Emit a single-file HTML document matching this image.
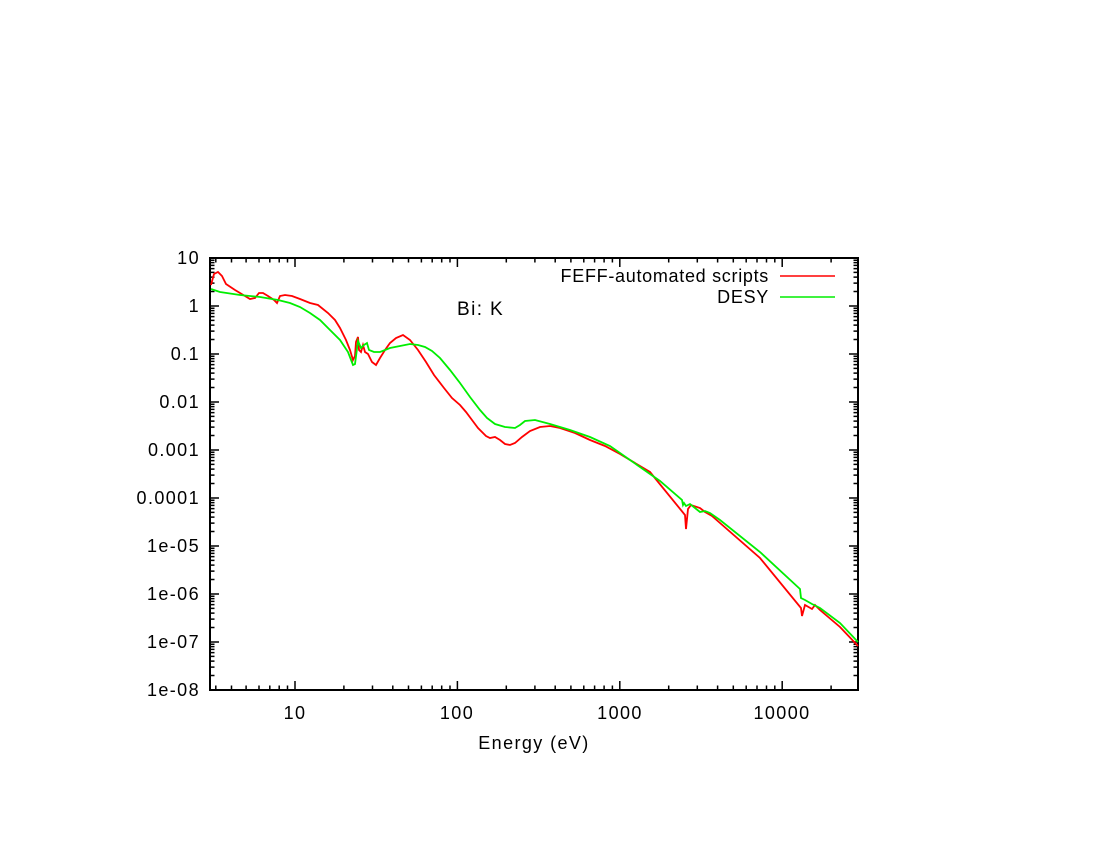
<!DOCTYPE html>
<html><head><meta charset="utf-8"><style>body{margin:0;background:#fff}svg{display:block}text{font-family:"Liberation Sans",sans-serif;font-size:18px;letter-spacing:1.4px}</style></head><body>
<svg width="1100" height="850" xmlns="http://www.w3.org/2000/svg">
<g stroke="#000" stroke-width="1.5" fill="none">
<path d="M210,690h9M858,690h-9M210,675.5h4.5M858,675.5h-4.5M210,667.1h4.5M858,667.1h-4.5M210,661.1h4.5M858,661.1h-4.5M210,656.4h4.5M858,656.4h-4.5M210,652.6h4.5M858,652.6h-4.5M210,649.4h4.5M858,649.4h-4.5M210,646.6h4.5M858,646.6h-4.5M210,644.2h4.5M858,644.2h-4.5"/>
<path id="yd" d="M210,642h9M858,642h-9M210,627.5h4.5M858,627.5h-4.5M210,619.1h4.5M858,619.1h-4.5M210,613.1h4.5M858,613.1h-4.5M210,608.4h4.5M858,608.4h-4.5M210,604.6h4.5M858,604.6h-4.5M210,601.4h4.5M858,601.4h-4.5M210,598.6h4.5M858,598.6h-4.5M210,596.2h4.5M858,596.2h-4.5"/>
</g>
<g stroke="#000" stroke-width="1.5" fill="none">
<use href="#yd" y="-48"/><use href="#yd" y="-96"/><use href="#yd" y="-144"/><use href="#yd" y="-192"/><use href="#yd" y="-240"/><use href="#yd" y="-288"/><use href="#yd" y="-336"/>
<path d="M210,258h9M858,258h-9"/>
<path id="xd" d="M295,690v-9M295,258v9M343.9,690v-4.5M343.9,258v4.5M372.5,690v-4.5M372.5,258v4.5M392.8,690v-4.5M392.8,258v4.5M408.5,690v-4.5M408.5,258v4.5M421.4,690v-4.5M421.4,258v4.5M432.2,690v-4.5M432.2,258v4.5M441.7,690v-4.5M441.7,258v4.5M450,690v-4.5M450,258v4.5"/>
<use href="#xd" x="162.4"/><use href="#xd" x="324.8"/>
<path d="M782.2,690v-9M782.2,258v9M831.1,690v-4.5M831.1,258v4.5"/>
<path d="M246.1,690v-4.5M246.1,258v4.5M259,690v-4.5M259,258v4.5M269.8,690v-4.5M269.8,258v4.5M279.2,690v-4.5M279.2,258v4.5M287.5,690v-4.5M287.5,258v4.5M231.5,690v-4.5M231.5,258v4.5M215.8,690v-4.5M215.8,258v4.5"/>
</g>
<rect x="210" y="258" width="648" height="432" fill="none" stroke="#000" stroke-width="2"/>
<g text-anchor="end">
<text x="200" y="264">10</text><text x="200" y="312">1</text><text x="200" y="360">0.1</text><text x="200" y="408">0.01</text><text x="200" y="456">0.001</text><text x="200" y="504">0.0001</text><text x="200" y="552">1e-05</text><text x="200" y="600">1e-06</text><text x="200" y="648">1e-07</text><text x="200" y="696">1e-08</text>
</g>
<g text-anchor="middle">
<text x="295" y="719">10</text><text x="457" y="719">100</text><text x="620" y="719">1000</text><text x="782" y="719">10000</text>
<text x="534" y="749">Energy (eV)</text>
</g>
<text x="457" y="315" style="font-size:19px">Bi: K</text>
<text x="769" y="282" text-anchor="end" style="letter-spacing:0.7px">FEFF-automated scripts</text>
<text x="769" y="303" text-anchor="end" style="letter-spacing:0.7px">DESY</text>
<line x1="780" y1="276" x2="835" y2="276" stroke="#f00" stroke-width="1.5"/>
<line x1="780" y1="297" x2="835" y2="297" stroke="#0e0" stroke-width="1.5"/>
<polyline fill="none" stroke="#f00" stroke-width="1.8" points="211,285 214,274 218,272 222,276 226,284 235,290 245,296 250,299 255,298 259,293 263,293 268,296 274,300 277,303 280,296 285,295 292,296 300,299 310,303 318,305 328,313 335,320 340,328 346,340 350,350 353,360 355,356 356,342 358,337 359,350 361,352 363,345 365,352 368,354 372,362 376,365 380,358 385,350 390,343 396,338 403,335 410,340 418,350 426,362 434,375 444,388 452,398 460,405 466,412 472,420 478,428 486,436 490,438 495,437 500,440 505,444 510,445 515,443 522,437 530,431 540,427 550,426 560,428 575,433 590,440 605,446 620,454 650,472 685,515 686,529 688,509 691,505 700,508 705,512 712,516 720,523 760,558 801,608 802,616 805,605 812,609 815,605 820,610 840,627 858,646"/>
<polyline fill="none" stroke="#0e0" stroke-width="1.8" points="211,289 220,292 240,295 260,297 278,300 290,303 300,307 310,313 320,320 330,330 340,340 348,352 353,365 355,364 358,341 361,348 364,345 367,343 369,350 374,352 380,352 390,348 400,346 410,344 418,345 425,347 432,351 440,358 450,370 460,383 470,397 480,410 487,418 495,424 505,427 515,428 520,425 525,421 535,420 550,424 570,430 590,437 610,446 630,460 660,481 682,500 683,505 684,503 686,506 690,504 695,508 700,512 705,511 710,513 720,520 760,552 800,589 801,598 805,600 812,604 820,608 840,623 858,642"/>
</svg>
</body></html>
